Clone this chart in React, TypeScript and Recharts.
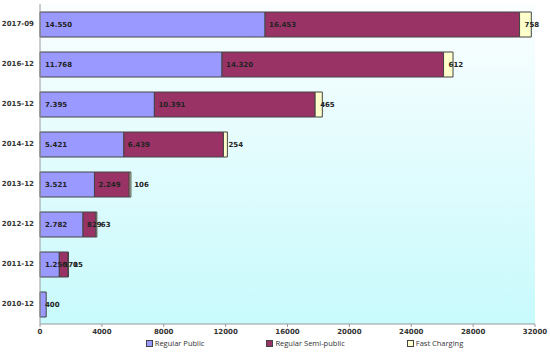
import React from 'react';
import {
  BarChart,
  Bar,
  XAxis,
  YAxis,
  CartesianGrid,
  Legend,
  LabelList,
} from 'recharts';

const periods = ['2017-09', '2016-12', '2015-12', '2014-12', '2013-12', '2012-12', '2011-12', '2010-12'];
const regularPublic = [14550, 11768, 7395, 5421, 3521, 2782, 1250, 400];
const regularSemiPublic = [16453, 14320, 10391, 6439, 2249, 829, 570, 0];
const fastCharging = [758, 612, 465, 254, 106, 63, 15, 0];
const xTicks = [0, 4000, 8000, 12000, 16000, 20000, 24000, 28000, 32000];

const series = [
  { key: 'public', name: 'Regular Public', color: '#9999ff', offset: 5 },
  { key: 'semi', name: 'Regular Semi-public', color: '#993366', offset: 4 },
  { key: 'fast', name: 'Fast Charging', color: '#ffffcc', offset: 5 },
];

const data = periods.map((period, i) => ({
  period,
  public: regularPublic[i],
  semi: regularSemiPublic[i],
  fast: fastCharging[i],
}));

const FONT = '"DejaVu Sans", Verdana, sans-serif';

const fmt = (v: any) => {
  if (!v) return '';
  return String(v).replace(/\B(?=(\d{3})+(?!\d))/g, '.');
};

const LegendBox = () => (
  <div
    style={{
      display: 'flex',
      justifyContent: 'center',
      gap: 62,
      fontFamily: '"Open Sans", "Liberation Sans", sans-serif',
      fontSize: 7.5,
      color: '#333',
      paddingLeft: 74,
    }}
  >
    {series.map((s) => (
      <div key={s.key} style={{ display: 'flex', alignItems: 'center' }}>
        <span
          style={{
            display: 'inline-block',
            width: 5,
            height: 5,
            background: s.color,
            border: '1px solid #444',
            marginRight: 2,
          }}
        />
        {s.name}
      </div>
    ))}
  </div>
);

const App = () => {
  return (
    <div style={{ position: 'absolute', left: 0, top: 0, background: '#fff' }}>
      <BarChart
        width={550}
        height={360}
        data={data}
        layout="vertical"
        margin={{ top: 4, right: 15, bottom: 0, left: 0 }}
        barSize={25}
      >
        <defs>
          <linearGradient id="plotBg" x1="0" y1="0" x2="0" y2="1">
            <stop offset="0%" stopColor="#fbfeff" />
            <stop offset="100%" stopColor="#c8fafc" />
          </linearGradient>
        </defs>
        <CartesianGrid horizontal={false} vertical={false} fill="url(#plotBg)" />
        <XAxis
          type="number"
          domain={[0, 32000]}
          ticks={xTicks}
          height={14}
          tickSize={3}
          tickMargin={2}
          interval={0}
          stroke="#999"
          tick={{ fontSize: 7, fill: '#333', fontFamily: FONT, fontWeight: 'bold' }}
        />
        <XAxis
          xAxisId="top"
          orientation="top"
          type="number"
          domain={[0, 32000]}
          height={0}
          tick={false}
          tickLine={false}
          stroke="#aaa"
        />
        <YAxis
          type="category"
          dataKey="period"
          width={40}
          tickSize={4}
          tickMargin={2}
          tickLine={false}
          stroke="#999"
          tick={{ fontSize: 7, fill: '#333', fontFamily: FONT, fontWeight: 'bold' }}
        />
        <YAxis
          yAxisId="right"
          orientation="right"
          type="category"
          dataKey="period"
          width={0}
          tick={false}
          tickLine={false}
          stroke="#aaa"
        />
        <Legend verticalAlign="bottom" height={22} content={<LegendBox />} />
        {series.map((s) => (
          <Bar
            key={s.key}
            dataKey={s.key}
            name={s.name}
            stackId="a"
            fill={s.color}
            stroke="#444"
            strokeWidth={1}
            isAnimationActive={false}
          >
            <LabelList
              dataKey={s.key}
              position="insideLeft"
              offset={s.offset}
              formatter={fmt}
              style={{ fontSize: 7, fill: '#222', fontFamily: FONT, fontWeight: 'bold' }}
            />
          </Bar>
        ))}
      </BarChart>
    </div>
  );
};

export default App;
